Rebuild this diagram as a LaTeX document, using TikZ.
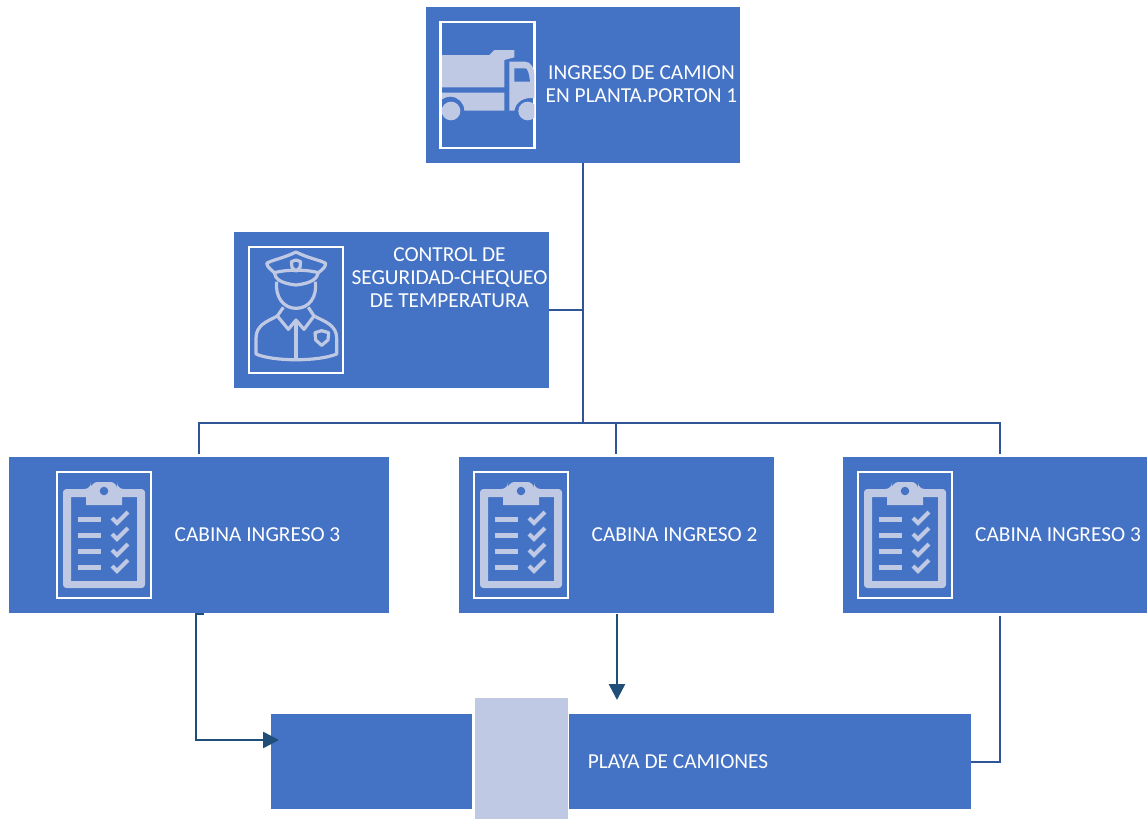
\documentclass[tikz,border=0pt]{standalone}
\usepackage{fontspec}
\setmainfont{Carlito}
\usetikzlibrary{arrows.meta}
\definecolor{boxblue}{HTML}{4472C4}
\definecolor{iconlight}{HTML}{BFC9E3}
\definecolor{linetop}{HTML}{2F5597}
\definecolor{linedark}{HTML}{1F4E79}
\tikzset{
  bluebox/.style={fill=boxblue,inner sep=0pt,outer sep=0pt},
  whiteframe/.style={draw=white,line width=1.9pt,inner sep=0pt,outer sep=0pt,minimum width=94pt*.75,minimum height=126pt*.75},
  label/.style={text=white,font=\fontsize{16}{17.3}\selectfont,align=center,inner sep=0pt},
  topline/.style={draw=linetop,line width=2.1pt},
  thinline/.style={draw=linetop,line width=1.7pt},
  darkline/.style={draw=linedark,line width=1.9pt},
  arrowline/.style={darkline,-{Triangle[length=12pt,width=12pt]}},
  pics/clipboard/.style={code={
    \fill[iconlight,rounded corners=2.5pt,even odd rule]
      (-41,-46) rectangle (41,53) (-33,-38) [sharp corners] rectangle (33,46);
    \fill[iconlight] (-18,-38) -- (-18,-46) [rounded corners=5pt] -- (-13,-46) -- (-13,-53) -- (13,-53) -- (13,-46) [sharp corners] -- (18,-46) -- (18,-30) -- (-18,-30) -- cycle;
    \fill[boxblue] (0,-44) circle (3.2pt);
    \foreach \yy in {-16,0,16,32}{
      \fill[iconlight] (-26,\yy-2.5) rectangle (-3,\yy+2.5);
      \draw[iconlight,line width=3pt] (8,\yy-1) -- (13,\yy+4) -- (24,\yy-7);
    }
  }}
}
\begin{document}
\begin{tikzpicture}[x=.75pt,y=-.75pt]
\useasboundingbox (0,0) rectangle (1147,819);
% boxes
\node[bluebox,minimum width=314*.75pt,minimum height=156*.75pt] (truckbox) at (583,85) {};
\node[bluebox,minimum width=315*.75pt,minimum height=156*.75pt] (guardbox) at (391.5,310) {};
\node[bluebox,minimum width=380*.75pt,minimum height=156*.75pt] (cabinA) at (199,535) {};
\node[bluebox,minimum width=315*.75pt,minimum height=156*.75pt] (cabinB) at (616.5,535) {};
\node[bluebox,minimum width=304*.75pt,minimum height=156*.75pt] (cabinC) at (995,535) {};
\node[bluebox,minimum width=700*.75pt,minimum height=95*.75pt] (yard) at (621,761.5) {};
\fill[white] (472,712) rectangle (569,812);
\node[fill=iconlight,inner sep=0pt,outer sep=0pt,minimum width=93*.75pt,minimum height=121*.75pt] (yardicon) at (521,758.5) {};
% frames
\node[whiteframe] (frameT) at (487.5,85) {};
\node[whiteframe] (frameG) at (296,310) {};
\node[whiteframe] (frameA) at (104,535) {};
\node[whiteframe] (frameB) at (521,535) {};
\node[whiteframe] (frameC) at (905,535) {};
% truck
\begin{scope}[shift={(426,0)},x=.25pt,y=-.25pt]
\fill[iconlight] (48,165) -- (190,165) -- (205,150) -- (265,150) -- (265,172) -- (235,180) -- (235,262) -- (48,262) -- cycle;
\fill[iconlight] (48,278) -- (235,278) -- (235,332) -- (115,332) arc[start angle=0,end angle=-140,radius=42] -- (48,298) -- cycle;
\fill[iconlight] (250,185) -- (298,185) .. controls (315,185) and (325,205) .. (325,225) -- (325,295) .. controls (295,290) and (270,305) .. (265,332) -- (250,332) -- cycle;
\fill[boxblue] (265,205) -- (298,205) .. controls (305,205) and (310,225) .. (312,245) -- (265,245) -- cycle;
\fill[iconlight] (75,333) circle (7pt);
\begin{scope}
\clip (260,290) rectangle (325,370);
\fill[iconlight] (305,333) circle (7pt);
\end{scope}
\end{scope}
% officer
\begin{scope}[shift={(230,230)},x=.25pt,y=-.25pt,draw=iconlight,line width=2.4pt,line join=round]
\draw (198,66) .. controls (160,85) and (125,90) .. (110,100) .. controls (112,112) and (125,120) .. (133,128) .. controls (170,118) and (230,118) .. (265,128) .. controls (275,120) and (287,112) .. (287,100) .. controls (270,90) and (235,85) .. (198,66) -- cycle;
\draw (133,128) .. controls (135,145) and (150,160) .. (198,165) .. controls (245,160) and (262,145) .. (265,128);
\draw (140,155) .. controls (135,200) and (160,235) .. (198,235) .. controls (238,235) and (262,200) .. (256,155);
\draw (198,90) -- (212,95) -- (210,112) -- (198,124) -- (186,112) -- (184,95) -- cycle;
\draw (160,232) -- (142,258) -- (175,298) -- (198,270) -- (222,298) -- (252,258) -- (235,232);
\draw (198,270) -- (198,390);
\draw (142,258) .. controls (110,275) and (78,285) .. (78,325) -- (78,372) .. controls (130,395) and (265,395) .. (320,372) -- (320,325) .. controls (320,285) and (285,275) .. (252,258);
\draw (255,308) -- (275,302) -- (296,308) -- (294,330) -- (275,346) -- (257,330) -- cycle;
\end{scope}
% clipboards
\pic at (frameA.center) {clipboard};
\pic at (frameB.center) {clipboard};
\pic at (frameC.center) {clipboard};
% labels
\node[label] (truckT) at (641.5,84.5) {INGRESO DE CAMION\\EN PLANTA.PORTON 1};
\node[label] (guardT) at (449.5,278) {CONTROL DE\\SEGURIDAD-CHEQUEO\\DE TEMPERATURA};
\node[label] (cabinAT) at (257.5,535) {CABINA INGRESO 3};
\node[label] (cabinBT) at (674.5,535) {CABINA INGRESO 2};
\node[label] (cabinCT) at (1058,535) {CABINA INGRESO 3};
\node[label] (yardT) at (678,762) {PLAYA DE CAMIONES};
% connectors
\coordinate (junction) at (583,423);
\coordinate (guardJ) at (583,310);
\coordinate (busL) at (199,423);
\coordinate (busR) at (1000,423);
\coordinate (dropA) at (199,454);
\coordinate (dropB) at (616,454);
\coordinate (dropC) at (1000,454);
\coordinate (stubA) at (204,614);
\coordinate (elbowA) at (196,614);
\coordinate (elbowB) at (196,740);
\coordinate (tipA) at (279,740);
\coordinate (startB) at (617,614);
\coordinate (tipB) at (617,700);
\coordinate (startC) at (1000,616);
\coordinate (elbowC) at (1000,762);
\coordinate (endC) at (yard.east |- elbowC);
\draw[topline] (truckbox.south -| junction) -- (junction);
\draw[thinline] (guardbox.east |- guardJ) -- (guardJ);
\draw[thinline] (dropA) -- (busL) -- (busR) -- (dropC);
\draw[thinline] (dropB) -- (dropB |- busL);
\draw[darkline,-{Triangle[length=12pt,width=12pt]}] (stubA) -- (elbowA) -- (elbowB) -- (tipA);
\draw[arrowline] (startB) -- (tipB);
\draw[thinline] (startC) -- (elbowC) -- (endC);
\end{tikzpicture}
\end{document}
